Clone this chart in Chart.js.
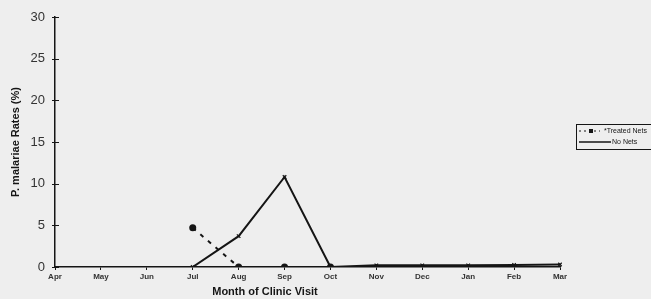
<!DOCTYPE html>
<html>
<head>
<meta charset="utf-8">
<script src="https://cdn.jsdelivr.net/npm/chart.js@4/dist/chart.umd.min.js"></script>
<style>
  html, body { margin: 0; padding: 0; background: #eeeeee; }
  #wrap { width: 651px; height: 299px; }
</style>
</head>
<body>
<div id="wrap"><canvas id="c" width="651" height="299"></canvas></div>
<script>
// months of clinic visits
const months = ['Apr', 'May', 'Jun', 'Jul', 'Aug', 'Sep', 'Oct', 'Nov', 'Dec', 'Jan', 'Feb', 'Mar'];
// P. malariae rates (%)
const treatedNets = [null, null, null, 4.7, 0, 0, 0, null, null, null, null, null];
const noNets = [null, null, null, 0, 3.7, 10.8, 0, 0.2, 0.2, 0.2, 0.25, 0.3];
const seriesLabels = ['*Treated Nets', 'No Nets'];
const yTicks = [0, 5, 10, 15, 20, 25, 30];

const ink = '#151515';

// small boxed legend on the right and the offset x title
const extras = {
  id: 'extras',
  afterDraw(chart) {
    const ctx = chart.ctx;
    ctx.save();
    // legend box
    ctx.strokeStyle = ink;
    ctx.lineWidth = 1;
    ctx.strokeRect(576.5, 124.5, 80, 25);
    ctx.font = '7px Arial, "Liberation Sans", sans-serif';
    ctx.fillStyle = ink;
    ctx.textBaseline = 'middle';
    // treated nets sample
    ctx.setLineDash([2, 3]);
    ctx.beginPath(); ctx.moveTo(579, 131); ctx.lineTo(600, 131); ctx.stroke();
    ctx.setLineDash([]);
    ctx.fillRect(589, 129, 4, 4);
    ctx.fillText(seriesLabels[0], 604, 131);
    // no nets sample
    ctx.lineWidth = 1.5;
    ctx.beginPath(); ctx.moveTo(579, 142); ctx.lineTo(611, 142); ctx.stroke();
    ctx.fillText(seriesLabels[1], 612, 142);
    // y ticks crossing the axis
    const ys = chart.scales.y;
    const x0 = chart.chartArea.left;
    ctx.lineWidth = 1;
    yTicks.forEach(v => {
      const y = Math.round(ys.getPixelForValue(v)) + 0.5;
      ctx.beginPath(); ctx.moveTo(x0 - 3, y); ctx.lineTo(x0 + 4, y); ctx.stroke();
    });
    // x axis title
    ctx.font = 'bold 11px Arial, "Liberation Sans", sans-serif';
    ctx.textAlign = 'center';
    ctx.textBaseline = 'alphabetic';
    ctx.fillText('Month of Clinic Visit', 265, 295);
    ctx.restore();
  }
};

new Chart(document.getElementById('c'), {
  type: 'line',
  data: {
    labels: months,
    datasets: [
      {
        label: seriesLabels[0],
        data: treatedNets,
        borderColor: ink,
        backgroundColor: ink,
        borderWidth: 2,
        borderDash: [4, 6],
        pointStyle: 'circle',
        pointRadius: 3.5,
        pointBorderWidth: 0,
        tension: 0
      },
      {
        label: seriesLabels[1],
        data: noNets,
        borderColor: ink,
        backgroundColor: ink,
        borderWidth: 2,
        pointStyle: 'crossRot',
        pointRadius: 2.5,
        pointBorderWidth: 1.2,
        tension: 0
      }
    ]
  },
  options: {
    responsive: false,
    animation: false,
    layout: { padding: { top: 17, right: 91, left: 0, bottom: 0 } },
    plugins: { legend: { display: false }, tooltip: { enabled: false } },
    scales: {
      x: {
        offset: false,
        border: { color: ink, width: 1.5 },
        grid: { display: true, drawOnChartArea: false, drawTicks: true, tickLength: 3, color: ink },
        ticks: {
          color: '#333',
          font: { size: 8, weight: 'bold', family: 'Arial, "Liberation Sans", sans-serif' },
          padding: 2,
          maxRotation: 0,
          autoSkip: false
        },
        afterFit(scale) { scale.height = 32; }
      },
      y: {
        min: 0,
        max: 30,
        border: { color: ink, width: 1.5 },
        grid: { display: false, tickLength: 4 },
        afterBuildTicks(scale) { scale.ticks = yTicks.map(v => ({ value: v })); },
        ticks: {
          color: '#333',
          font: { size: 13, family: 'Arial, "Liberation Sans", sans-serif' },
          padding: 6
        },
        title: {
          display: true,
          text: 'P. malariae Rates (%)',
          color: ink,
          font: { size: 11, weight: 'bold', family: 'Arial, "Liberation Sans", sans-serif' },
          padding: { top: 9, bottom: 0 }
        },
        afterFit(scale) { scale.width = 55; }
      }
    }
  },
  plugins: [extras]
});
</script>
</body>
</html>
